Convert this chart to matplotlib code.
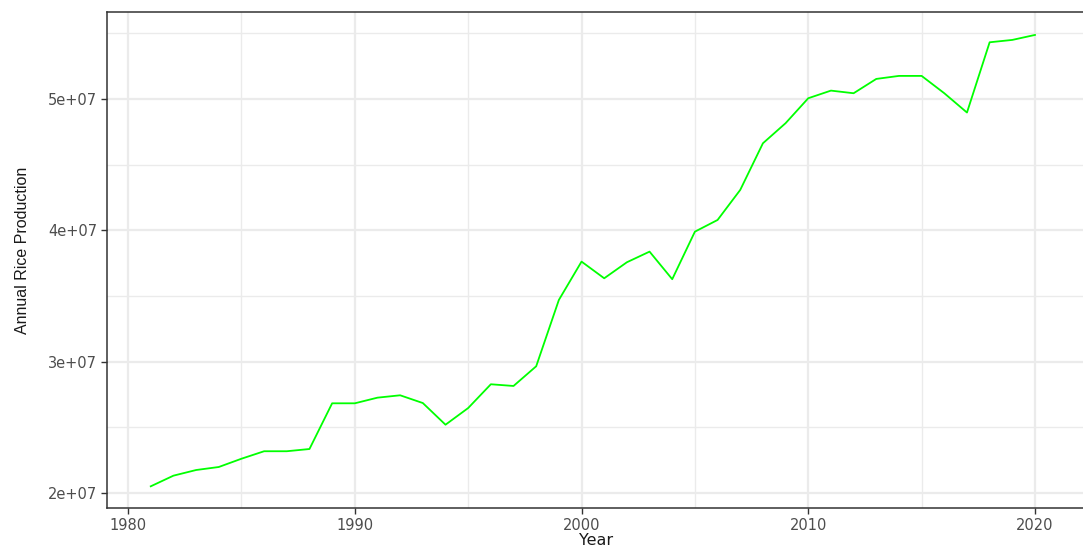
import matplotlib
matplotlib.use("Agg")
import matplotlib.pyplot as plt
from matplotlib.ticker import FuncFormatter, MultipleLocator

years = list(range(1981, 2021))
production = [
    2.051e7, 2.132e7, 2.175e7, 2.198e7, 2.261e7, 2.318e7, 2.318e7, 2.335e7,
    2.683e7, 2.683e7, 2.726e7, 2.744e7, 2.685e7, 2.520e7, 2.647e7, 2.828e7,
    2.815e7, 2.965e7, 3.470e7, 3.762e7, 3.635e7, 3.757e7, 3.838e7, 3.628e7,
    3.990e7, 4.079e7, 4.308e7, 4.663e7, 4.816e7, 5.006e7, 5.064e7, 5.044e7,
    5.153e7, 5.176e7, 5.176e7, 5.044e7, 4.897e7, 5.432e7, 5.450e7, 5.488e7,
]
x_ticks = [1980, 1990, 2000, 2010, 2020]
y_ticks = [2e7, 3e7, 4e7, 5e7]

W, H = 1083, 548
fig = plt.figure(figsize=(W / 100, H / 100), dpi=100)
# panel runs a little past the right edge, as in the reference
ax = fig.add_axes([107 / W, 1 - 508 / H, (W + 3 - 107) / W, (508 - 12) / H])

grid_col = "#EBEBEB"
ax.set_axisbelow(True)
ax.grid(which="major", color=grid_col, linewidth=1.6)
ax.grid(which="minor", color=grid_col, linewidth=1.0)
ax.xaxis.set_minor_locator(MultipleLocator(5))
ax.yaxis.set_minor_locator(MultipleLocator(5e6))

ax.plot(years, production, color="#00FF00", linewidth=1.3)

ax.set_xlim(1979.07, 2022.25)
ax.set_ylim(1.8858e7, 5.6626e7)
ax.set_xticks(x_ticks)
ax.set_yticks(y_ticks)
ax.yaxis.set_major_formatter(FuncFormatter(lambda v, p: f"{v:.0e}"))

for s in ax.spines.values():
    s.set_color("#333333")
    s.set_linewidth(1.1)
ax.tick_params(which="major", length=4, width=1, color="#333333",
               labelcolor="#4D4D4D", labelsize=10.5, pad=3)
ax.tick_params(which="minor", length=0)
for lab in ax.get_xticklabels() + ax.get_yticklabels():
    lab.set_family("DejaVu Sans")

ax.set_xlabel("Year", fontsize=11.5, family="DejaVu Sans", color="#1a1a1a", labelpad=0)
ax.set_ylabel("Annual Rice Production", fontsize=11.5, family="Liberation Sans",
              color="#1a1a1a")
ax.yaxis.set_label_coords(-0.079, 0.52)

fig.savefig("out.png", dpi=100)
